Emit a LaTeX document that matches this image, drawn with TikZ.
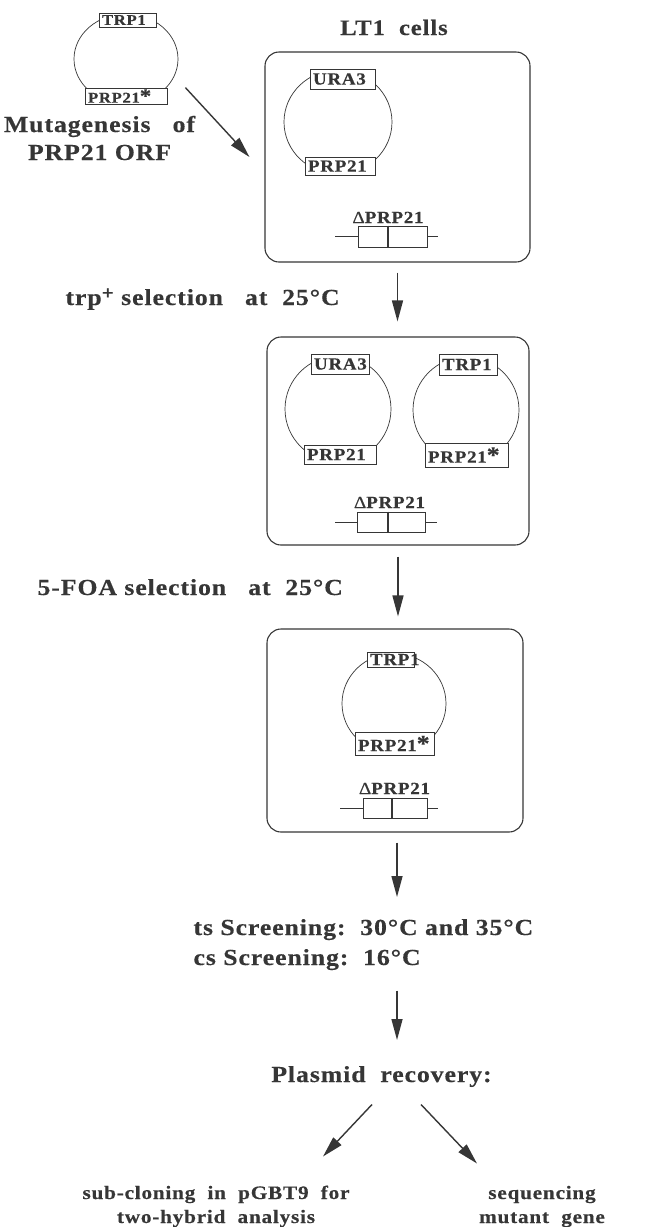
\documentclass[tikz,border=0pt]{standalone}
\usepackage{fontspec}
\usepackage{graphicx}
\usepackage{tikz}
\usetikzlibrary{arrows.meta,positioning,calc}
\setmainfont{Liberation Serif}
\newfontfamily\figfont{Liberation Serif}[FakeStretch=1.12,LetterSpace=4,FakeBold=0.4]
\definecolor{ink}{HTML}{363636}
\newcommand\bigtype{\figfont\bfseries\fontsize{23}{28}\selectfont}
\newcommand\midtype{\figfont\bfseries\fontsize{22}{24}\selectfont}
\newcommand\lowtype{\figfont\bfseries\fontsize{19}{24}\selectfont}
\newcommand\genetype{\figfont\bfseries\fontsize{17}{17}\selectfont}
\newcommand\tinytype{\figfont\bfseries\fontsize{15}{15}\selectfont}
\newcommand\mstar{\scalebox{1.35}{*}}
\newcommand\plus{\raisebox{0.55ex}{\fontsize{19}{19}\selectfont+}}

\tikzset{
  say/.style={font=\bigtype, text=ink},
  cell/.style={draw=ink, line width=1.1pt, rounded corners=14pt, inner sep=0pt},
  ring/.style={draw=ink, line width=0.7pt},
  gene/.style={draw=ink, fill=white, line width=0.8pt, inner xsep=3pt, inner ysep=0pt,
    align=left, text=ink, font=\genetype},
  locus/.style={draw=ink, line width=0.8pt, inner sep=0pt, minimum height=20},
  flow/.style={draw=ink, line width=1.4pt, -{Triangle[length=21pt,width=11pt]}}
}

\begin{document}
\begin{tikzpicture}[x=1pt,y=-1pt]
    \useasboundingbox (0,0) rectangle (649,1227);

    % mutagenized plasmid
    \draw[ring] (126,59) ellipse [x radius=52, y radius=45];
    \node[gene, font=\tinytype, text width=51, minimum height=14] (trpA) at (127.5,20) {TRP1};
    \node[gene, font=\tinytype, text width=76, minimum height=16] (prpA) at (126,96) {PRP21\mstar};
    \node[say, anchor=base, align=center] (mut) at (99.5,160) {Mutagenesis\ \ \ of\\PRP21 ORF};

    % LT1 cells
    \node[say, font=\midtype, anchor=base] (lt) at (394,35) {LT1\ \ cells};
    \node[cell, minimum width=265, minimum height=210] (cellA) at (397.5,157) {};
    \draw[ring] (338,122) ellipse [x radius=54, y radius=52];
    \node[gene, text width=59, minimum height=20] (uraA) at (342.5,79) {URA3};
    \node[gene, text width=64, minimum height=18] (wtA) at (340,166) {PRP21};
    \node[say, font=\genetype, anchor=base] (delA) at (388,223) {{\mdseries Δ}PRP21};
    \node[locus, minimum width=69, minimum height=21] (locA) at (392.5,236.5) {};
    \draw[ink, line width=2pt] ([xshift=-4.5]locA.north) -- ([xshift=-4.5]locA.south);
    \draw[ink, line width=0.8pt] (locA.west) -- ++(-23,0) (locA.east) -- ++(11,0);

    \draw[flow] ([xshift=18]prpA.north east) -- ([xshift=-15]cellA.west);
    \node[say, anchor=base west] (trp) at (62,305) {trp\plus\ selection\ \ \ at\ \ 25°C};

    % both plasmids
    \node[cell, minimum width=262, minimum height=208] (cellB) at (398,441) {};
    \draw[ring] (338,409) ellipse [x radius=53, y radius=53];
    \node[gene, text width=52, minimum height=20] (uraB) at (340,364) {URA3};
    \node[gene, text width=66, minimum height=19] (wtB) at (340,454.5) {PRP21};
    \draw[ring] (466,410) ellipse [x radius=53, y radius=53];
    \node[gene, text width=52, minimum height=21] (trpB) at (468,364.5) {TRP1};
    \node[gene, text width=77, minimum height=24] (prpB) at (466.5,455) {PRP21\mstar};
    \node[say, font=\genetype, anchor=base] (delB) at (389.5,508) {{\mdseries Δ}PRP21};
    \node[locus, minimum width=68] (locB) at (391,522) {};
    \draw[ink, line width=2pt] ([xshift=-3]locB.north) -- ([xshift=-3]locB.south);
    \draw[ink, line width=0.8pt] (locB.west) -- ++(-22,0) (locB.east) -- ++(12,0);

    \draw[flow, shorten <=10pt, shorten >=15pt] (cellA.south) -- (cellA.south |- cellB.north);
    \node[say, anchor=base west] (foa) at (34,595) {5-FOA selection\ \ \ at\ \ 25°C};

    % mutant plasmid only
    \node[cell, minimum width=256, minimum height=203] (cellC) at (395,730.5) {};
    \draw[ring] (394,703.5) ellipse [x radius=52, y radius=50];
    \node[gene, text width=41, minimum height=15] (trpC) at (390.5,659.5) {TRP1};
    \node[gene, text width=73, minimum height=23] (prpC) at (394.5,743.5) {PRP21\mstar};
    \node[say, font=\genetype, anchor=base] (delC) at (394.5,794) {{\mdseries Δ}PRP21};
    \node[locus, minimum width=64] (locC) at (395,808) {};
    \draw[ink, line width=2pt] ([xshift=-3]locC.north) -- ([xshift=-3]locC.south);
    \draw[ink, line width=0.8pt] (locC.west) -- ++(-23,0) (locC.east) -- ++(11,0);

    \draw[flow, shorten <=11pt, shorten >=12pt] (cellB.south) -- (cellB.south |- cellC.north);

    % screening and recovery
    \coordinate (tsIn) at (397,897);
    \coordinate (recIn) at (397,1040);
    \draw[flow, shorten <=10pt] (cellC.south -| tsIn) -- (tsIn);
    \node[say, font=\figfont\bfseries\fontsize{23}{30}\selectfont, anchor=base west, align=left] (screen) at (190,965) {ts Screening:\ \ 30°C and 35°C\\cs Screening:\ \ 16°C};
    \draw[flow, shorten <=17pt] (screen.south -| recIn) -- (recIn);
    \node[say, anchor=base] (rec) at (381.5,1082) {Plasmid\ \ recovery:};

    \draw[flow] ($(rec.south)+(-9.5,14)$) -- ++(-49,52);
    \draw[flow] ($(rec.south)+(39.5,14)$) -- ++(56,59);
    \node[say, font=\lowtype, anchor=base, align=center] (clone) at (216,1223) {sub-cloning\ \ in\ \ pGBT9\ \ for\\two-hybrid\ \ analysis};
    \node[say, font=\lowtype, anchor=base, align=center] (seq) at (542,1223) {sequencing\\mutant\ \ gene};

\end{tikzpicture}
\end{document}
